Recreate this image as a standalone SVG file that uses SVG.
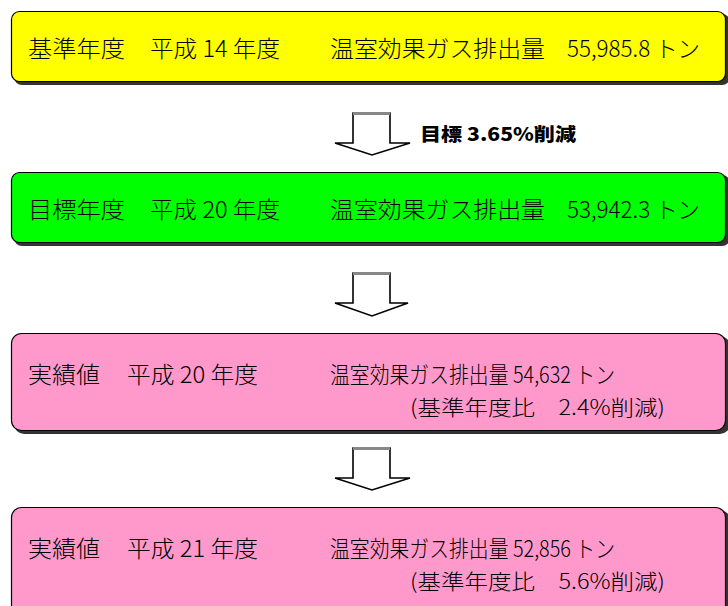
<svg xmlns="http://www.w3.org/2000/svg" width="728" height="606" viewBox="0 0 728 606">
<style>
.shadow{fill:#333;}
.box{stroke:#000;stroke-width:1.2;}
.t{font-family:"Noto Sans CJK JP","Liberation Sans",sans-serif;font-size:23px;font-weight:300;fill:#000;}
.t2{font-family:"Noto Sans CJK JP","Liberation Sans",sans-serif;font-size:21px;font-weight:300;fill:#000;}
.arr{fill:#fff;stroke:#000;stroke-width:1.6;}
.arrtop{stroke:#888;stroke-width:3;}
.lbl{font-family:"Noto Sans CJK JP","Liberation Sans",sans-serif;font-size:18px;font-weight:900;fill:#000;}
</style>
<rect width="728" height="606" fill="#fff"/>
<g id="connectors">
  <g id="arrow1">
    <polygon class="arr" points="353,113 390,113 390,143 410,143 372,155 335,143 353,143"/>
    <line class="arrtop" x1="353" y1="113.5" x2="390" y2="113.5"/>
  </g>
  <text class="lbl" x="420" y="141" textLength="156" lengthAdjust="spacingAndGlyphs">目標 3.65%削減</text>
  <g id="arrow2">
    <polygon class="arr" points="353,273 390,273 390,303 408,303 372,316 335,303 353,303"/>
    <line class="arrtop" x1="353" y1="273.5" x2="390" y2="273.5"/>
  </g>
  <g id="arrow3">
    <polygon class="arr" points="353,448 390,448 390,478 410,478 372,490 335,478 353,478"/>
    <line class="arrtop" x1="353" y1="448.5" x2="390" y2="448.5"/>
  </g>
</g>
<g id="node1">
  <rect class="shadow" x="14" y="14" width="716" height="71" rx="8"/>
  <rect class="box" x="11.5" y="11.5" width="714" height="70" rx="8" fill="#ffff00"/>
  <text class="t" x="28" y="57" textLength="97" lengthAdjust="spacingAndGlyphs">基準年度</text>
  <text class="t" x="150" y="57" textLength="130" lengthAdjust="spacingAndGlyphs">平成 14 年度</text>
  <text class="t" x="330" y="57" textLength="215" lengthAdjust="spacingAndGlyphs">温室効果ガス排出量</text>
  <text class="t" x="567" y="57" textLength="133" lengthAdjust="spacingAndGlyphs">55,985.8 トン</text>
</g>
<g id="node2">
  <rect class="shadow" x="14" y="175" width="716" height="71" rx="8"/>
  <rect class="box" x="11.5" y="172.5" width="714" height="70" rx="8" fill="#00ff00"/>
  <text class="t" x="28" y="218" textLength="97" lengthAdjust="spacingAndGlyphs">目標年度</text>
  <text class="t" x="150" y="218" textLength="130" lengthAdjust="spacingAndGlyphs">平成 20 年度</text>
  <text class="t" x="330" y="218" textLength="215" lengthAdjust="spacingAndGlyphs">温室効果ガス排出量</text>
  <text class="t" x="567" y="218" textLength="133" lengthAdjust="spacingAndGlyphs">53,942.3 トン</text>
</g>
<g id="node3">
  <rect class="shadow" x="14" y="336" width="716" height="98" rx="10"/>
  <rect class="box" x="11.5" y="333.5" width="714" height="97" rx="10" fill="#ff99cc"/>
  <text class="t" x="28" y="383" textLength="72" lengthAdjust="spacingAndGlyphs">実績値</text>
  <text class="t" x="127" y="383" textLength="131" lengthAdjust="spacingAndGlyphs">平成 20 年度</text>
  <text class="t" x="330" y="383" textLength="285" lengthAdjust="spacingAndGlyphs">温室効果ガス排出量 54,632 トン</text>
  <text class="t2" x="410" y="415" textLength="255" lengthAdjust="spacingAndGlyphs">(基準年度比　2.4%削減)</text>
</g>
<g id="node4">
  <rect class="shadow" x="14" y="510" width="716" height="110" rx="10"/>
  <rect class="box" x="11.5" y="507.5" width="714" height="110" rx="10" fill="#ff99cc"/>
  <text class="t" x="28" y="557" textLength="72" lengthAdjust="spacingAndGlyphs">実績値</text>
  <text class="t" x="127" y="557" textLength="131" lengthAdjust="spacingAndGlyphs">平成 21 年度</text>
  <text class="t" x="330" y="557" textLength="285" lengthAdjust="spacingAndGlyphs">温室効果ガス排出量 52,856 トン</text>
  <text class="t2" x="410" y="589" textLength="255" lengthAdjust="spacingAndGlyphs">(基準年度比　5.6%削減)</text>
</g>
</svg>
